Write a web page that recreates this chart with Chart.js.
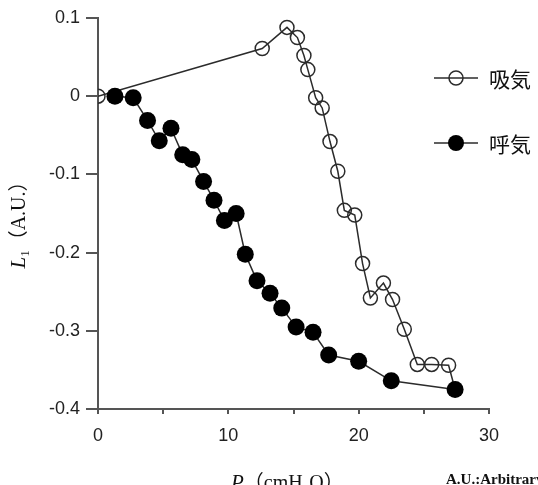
<!DOCTYPE html>
<html><head><meta charset="utf-8">
<script src="https://cdn.jsdelivr.net/npm/chart.js@4/dist/chart.umd.min.js"></script>
<style>html,body{margin:0;padding:0;background:#fff}#wrap{width:538px;height:485px;position:relative;overflow:hidden}</style>
</head><body><div id="wrap"><canvas id="c" width="538" height="485"></canvas></div>
<script>
// ---- data ----
const seriesNames = ['吸気', '呼気'];
const inspX = [0, 12.6, 14.5, 15.3, 15.8, 16.1, 16.7, 17.2, 17.8, 18.4, 18.9, 19.7, 20.3, 20.9, 21.9, 22.6, 23.5, 24.5, 25.6, 26.9, 27.4];
const inspY = [0, 0.061, 0.088, 0.075, 0.052, 0.034, -0.002, -0.015, -0.058, -0.096, -0.146, -0.152, -0.214, -0.258, -0.239, -0.260, -0.298, -0.343, -0.343, -0.344, -0.375];
const expX = [1.3, 2.7, 3.8, 4.7, 5.6, 6.5, 7.2, 8.1, 8.9, 9.7, 10.6, 11.3, 12.2, 13.2, 14.1, 15.2, 16.5, 17.7, 20.0, 22.5, 27.4];
const expY = [0, -0.002, -0.031, -0.057, -0.041, -0.075, -0.081, -0.109, -0.133, -0.159, -0.150, -0.202, -0.236, -0.252, -0.271, -0.295, -0.302, -0.331, -0.339, -0.364, -0.375];
const xMin = 0, xMax = 30, xLabelStep = 10, xTickStep = 5;
const yMin = -0.4, yMax = 0.1, yStep = 0.1;
const yTitle = ['L', '1', '（A.U.）'];
const xTitle = ['P', '（cmH', '2', 'O）'];
const noteText = 'A.U.:Arbitrary unit';

const toPts = (xs, ys) => xs.map((x, i) => ({x: x, y: ys[i]}));
const ink = '#2b2b2b';

const overlay = {
  id: 'overlay',
  afterDraw(chart) {
    const ctx = chart.ctx;
    ctx.save();
    ctx.fillStyle = '#111';
    ctx.textBaseline = 'alphabetic';
    ctx.textAlign = 'left';
    // Y title (rotated)
    const fMain = '20px "Liberation Serif", "Noto Sans CJK JP"';
    const fIt = 'italic 21px "Liberation Serif"';
    const fSub = '13px "Liberation Serif"';
    ctx.save();
    ctx.font = fIt; const w1 = ctx.measureText(yTitle[0]).width;
    ctx.font = fSub; const w2 = ctx.measureText(yTitle[1]).width;
    ctx.font = fMain; const w3 = ctx.measureText(yTitle[2]).width;
    const tot = w1 + w2 + w3;
    ctx.translate(25, 220);
    ctx.rotate(-Math.PI / 2);
    let px = -tot / 2;
    ctx.font = fIt; ctx.fillText(yTitle[0], px, 0); px += w1;
    ctx.font = fSub; ctx.fillText(yTitle[1], px, 4); px += w2;
    ctx.font = fMain; ctx.fillText(yTitle[2], px, 0);
    ctx.restore();
    // X title
    let xx = 231; const by = 489;
    ctx.font = fIt; ctx.fillText(xTitle[0], xx, by); xx += ctx.measureText(xTitle[0]).width;
    ctx.font = fMain; ctx.fillText(xTitle[1], xx, by); xx += ctx.measureText(xTitle[1]).width;
    ctx.font = fSub; ctx.fillText(xTitle[2], xx, by + 4); xx += ctx.measureText(xTitle[2]).width;
    ctx.font = fMain; ctx.fillText(xTitle[3], xx, by);
    // note
    ctx.font = 'bold 15px "Liberation Serif"';
    ctx.fillText(noteText, 446, 484);
    // legend
    const rows = [{y: 78, filled: false}, {y: 143, filled: true}];
    rows.forEach((r, i) => {
      ctx.strokeStyle = ink; ctx.lineWidth = 1.5;
      ctx.beginPath(); ctx.moveTo(434, r.y); ctx.lineTo(478, r.y); ctx.stroke();
      ctx.beginPath(); ctx.arc(456, r.y, r.filled ? 8 : 7, 0, Math.PI * 2);
      if (r.filled) { ctx.fillStyle = '#000'; ctx.fill(); }
      else { ctx.fillStyle = '#fff'; ctx.fill(); ctx.stroke(); ctx.beginPath(); ctx.moveTo(449, r.y); ctx.lineTo(463, r.y); ctx.stroke(); }
      ctx.fillStyle = '#111';
      ctx.font = '21px "Noto Sans CJK JP"';
      ctx.textBaseline = 'middle';
      ctx.fillText(seriesNames[i], 489, r.y + 1);
      ctx.textBaseline = 'alphabetic';
    });
    ctx.restore();
  }
};

new Chart(document.getElementById('c'), {
  type: 'scatter',
  data: {
    datasets: [
      {
        label: seriesNames[1], data: toPts(expX, expY), showLine: true,
        borderColor: ink, borderWidth: 1.5, pointRadius: 8.5, pointHoverRadius: 8.5,
        pointBackgroundColor: '#000', pointBorderColor: '#000', pointBorderWidth: 0
      },
      {
        label: seriesNames[0], data: toPts(inspX, inspY), showLine: true,
        borderColor: ink, borderWidth: 1.5, pointRadius: 7, pointHoverRadius: 7,
        pointBackgroundColor: 'rgba(0,0,0,0)', pointBorderColor: ink, pointBorderWidth: 1.5
      }
    ]
  },
  options: {
    responsive: false, animation: false, devicePixelRatio: 1,
    layout: {padding: {left: 0, top: 18, right: 49, bottom: 0}},
    plugins: {legend: {display: false}, tooltip: {enabled: false}},
    scales: {
      x: {
        type: 'linear', min: xMin, max: xMax,
        afterFit: s => { s.height = 76; },
        border: {display: true, color: '#555', width: 2},
        grid: {drawOnChartArea: false, drawTicks: true, tickLength: 5, color: '#555', lineWidth: 2},
        ticks: {stepSize: xTickStep, autoSkip: false, padding: 11, color: '#222',
          font: {family: '"Liberation Sans", Arial', size: 18},
          callback: v => (v % xLabelStep === 0 ? String(v) : '')}
      },
      y: {
        type: 'linear', min: yMin, max: yMax,
        afterFit: s => { s.width = 98; },
        border: {display: true, color: '#555', width: 2},
        grid: {drawOnChartArea: false, drawTicks: true, tickLength: 12, color: '#555', lineWidth: 2},
        ticks: {stepSize: yStep, autoSkip: false, padding: 6, color: '#222',
          font: {family: '"Liberation Sans", Arial', size: 18},
          callback: v => String(Math.round(v * 10) / 10)}
      }
    }
  },
  plugins: [overlay]
});
</script>
</body></html>
